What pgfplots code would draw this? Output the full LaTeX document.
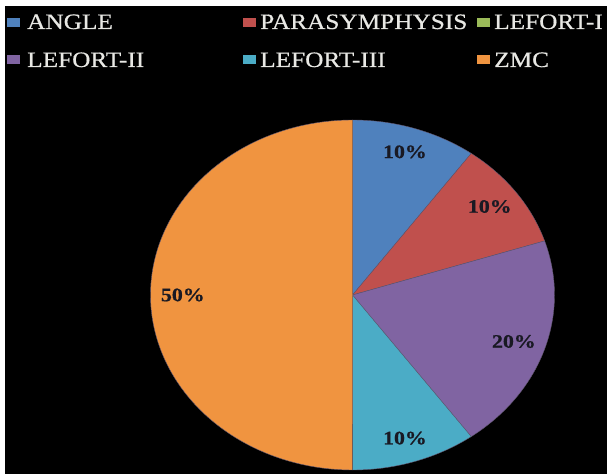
\documentclass[border=0pt]{standalone}
\usepackage{pgfplots}
\pgfplotsset{compat=1.18}
\usepackage{pgfplotstable}
\usepackage{fontspec}
\setmainfont{Liberation Serif}
\newfontfamily\legfam[FakeStretch=1.15,FakeBold=0.6]{Liberation Serif}
\newfontfamily\labfam[FakeStretch=1.15,FakeBold=0.8]{Liberation Serif}
\newcommand\legfont{\legfam\fontsize{22bp}{22bp}\selectfont}
\newcommand\labfont{\labfam\bfseries\fontsize{19bp}{19bp}\selectfont}
\definecolor{pie0}{RGB}{79,129,189}
\definecolor{pie1}{RGB}{192,80,77}
\definecolor{pie2}{RGB}{155,187,89}
\definecolor{pie3}{RGB}{128,100,162}
\definecolor{pie4}{RGB}{75,172,198}
\definecolor{pie5}{RGB}{240,148,64}
\definecolor{edgec}{RGB}{95,85,110}
\definecolor{legtext}{RGB}{232,232,228}
\definecolor{labtext}{RGB}{25,25,35}

\pgfplotstableread{
name value
ANGLE 10
PARASYMPHYSIS 10
LEFORT-I 0
LEFORT-II 20
LEFORT-III 10
ZMC 50
}\piedata

\begin{document}
\begin{tikzpicture}
\useasboundingbox (0,0) rectangle (607bp,474bp);
\fill[white] (0,0) rectangle (607bp,474bp);
\fill[black] (5bp,0) rectangle (607bp,468bp);
\clip (0,0) rectangle (607bp,474bp);
% legend
\begin{scope}[every node/.style={inner sep=0pt, anchor=base west, text=legtext, font=\legfont}]
\fill[pie0] (7bp,447bp) rectangle (20bp,456bp);
\node at (27bp,445bp) {ANGLE};
\fill[pie1] (243bp,447bp) rectangle (256bp,456bp);
\node at (260bp,445bp) {PARASYMPHYSIS};
\fill[pie2] (477bp,447bp) rectangle (490bp,456bp);
\node at (494bp,445bp) {LEFORT-I};
\fill[pie3] (7bp,410bp) rectangle (20bp,419bp);
\node at (27bp,407bp) {LEFORT-II};
\fill[pie4] (243bp,410bp) rectangle (256bp,419bp);
\node at (260bp,407bp) {LEFORT-III};
\fill[pie5] (477bp,410bp) rectangle (490bp,419bp);
\node at (494bp,407bp) {ZMC};
\end{scope}
\begin{axis}[
  at={(352.5bp,179bp)}, anchor=origin,
  x=202bp, y=175bp,
  xmin=-1.05, xmax=1.05, ymin=-1.05, ymax=1.05,
  hide axis, clip=false,
]
\def\cum{0}
\pgfplotsforeachungrouped \i in {0,...,5}{%
  \pgfplotstablegetelem{\i}{value}\of\piedata
  \let\val\pgfplotsretval
  \pgfmathsetmacro\angA{90-3.6*\cum}
  \pgfmathsetmacro\angB{90-3.6*(\cum+\val)}
  \pgfmathsetmacro\angM{(\angA+\angB)/2}
  \ifdim\val pt>0pt
    \edef\temp{\noexpand\addplot[fill=pie\i, draw=edgec, line width=0.4bp, domain=\angB:\angA, samples=120, variable=\noexpand\t] ({cos(\noexpand\t)},{sin(\noexpand\t)}) -- (axis cs:0,0) -- cycle;
      \noexpand\node[font=\noexpand\labfont, text=labtext, inner sep=0pt] at (axis cs:{0.84*cos(\angM)},{0.86*sin(\angM)}) {\val\noexpand\%};}%
    \temp
  \fi
  \pgfmathsetmacro\cum{\cum+\val}%
}
\end{axis}
\end{tikzpicture}
\end{document}
